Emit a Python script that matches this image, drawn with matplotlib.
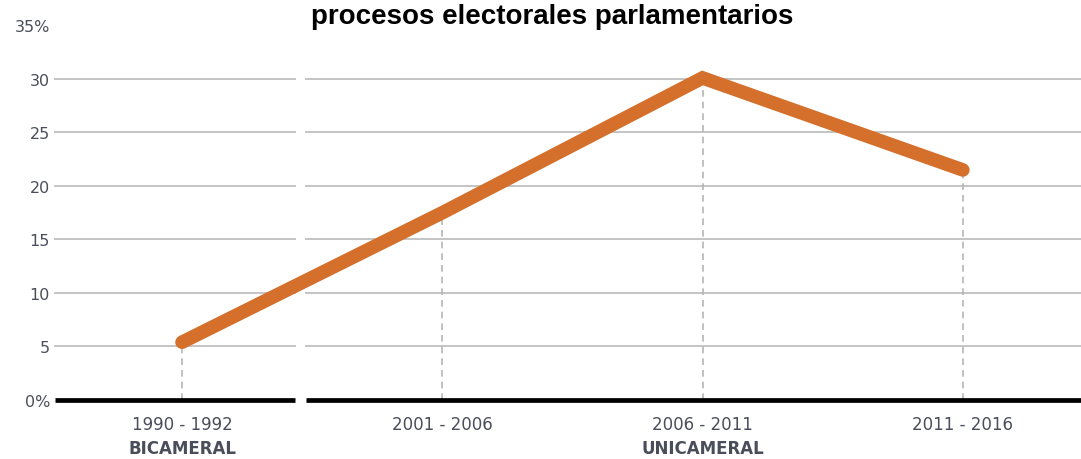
import matplotlib
matplotlib.use("Agg")
from matplotlib import pyplot as plt

# datos
periodos = ["1990 - 1992", "2001 - 2006", "2006 - 2011", "2011 - 2016"]
camaras = ["BICAMERAL", "", "UNICAMERAL", ""]
porcentaje = [5.4, 17.5, 30.1, 21.5]
y_ticks = [0, 5, 10, 15, 20, 25, 30, 35]
y_labels = ["0%", "5", "10", "15", "20", "25", "30", "35%"]
titulo = "procesos electorales parlamentarios"

naranja = "#D4702C"
gris = "#c4c4c4"
texto = "#4a4e5a"
fuente = "DejaVu Sans"

fig = plt.figure(figsize=(10.81, 4.60), dpi=100)
ax = fig.add_axes([0.0509, 0.1283, 0.9491, 0.8141])
x = list(range(len(periodos)))
ax.set_xlim(-0.488, 3.454)
ax.set_ylim(0, 35)

# tramos separados (bicameral / unicameral)
tramos = [(-0.488, 0.434), (0.476, 3.454)]
for a, b in tramos:
    for v in y_ticks[1:-1]:
        ax.plot([a, b], [v, v], color=gris, lw=1.4, zorder=1, clip_on=False)
    ax.plot([a, b], [0, 0], color="black", lw=3.4, solid_capstyle="butt", zorder=4, clip_on=False)

# líneas verticales discontinuas
for xi, v in zip(x, porcentaje):
    ax.plot([xi, xi], [0, v], color="#b5b5b5", lw=1.2, ls=(0, (4, 3)), zorder=2)

ax.plot(x, porcentaje, color=naranja, lw=9.8, solid_capstyle="round", solid_joinstyle="miter",
        zorder=5, clip_on=False)

ax.set_yticks(y_ticks)
ax.set_yticklabels(y_labels)
ax.set_xticks(x)
ax.set_xticklabels(periodos)
for lab in ax.get_yticklabels():
    lab.set_fontfamily(fuente)
    lab.set_fontsize(11.5)
    lab.set_color(texto)
for lab in ax.get_xticklabels():
    lab.set_fontfamily(fuente)
    lab.set_fontsize(12)
    lab.set_color(texto)
ax.tick_params(length=0, pad=3.6)
ax.tick_params(axis="x", pad=11)

for xi, c in zip(x, camaras):
    if c:
        ax.text(xi, -3.65, c, ha="center", va="top", fontsize=12, fontweight="bold",
                family=fuente, color=texto)

for s in ax.spines.values():
    s.set_visible(False)

fig.text(0.511, 0.962, titulo, ha="center", va="center", fontsize=20, fontweight="bold",
         family="Liberation Sans")

fig.savefig("out.png", dpi=100)
